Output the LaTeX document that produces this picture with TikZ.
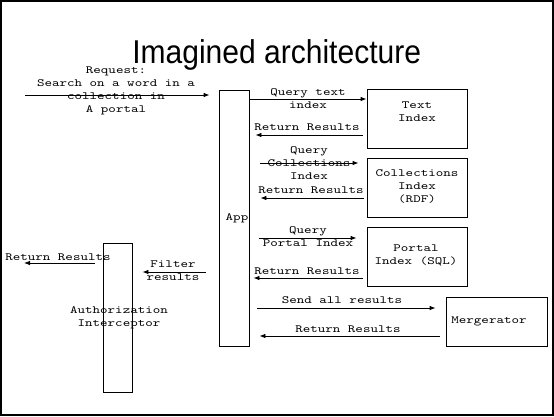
\documentclass[tikz,border=0pt]{standalone}
\usepackage{fontspec}
\usetikzlibrary{arrows.meta}
\newfontfamily\titlefont[FakeStretch=0.91]{Liberation Sans}
\setmonofont[FakeStretch=1.3]{Latin Modern Mono}

\tikzset{
  box/.style={draw, line width=0.8pt, inner sep=0pt},
  lbl/.style={inner sep=0pt, align=center, font=\ttfamily\fontsize{11}{13}\selectfont},
  msg/.style={line width=0.8pt, -{Latex[length=6pt,width=4.5pt]}},
}

\begin{document}
\begin{tikzpicture}[x=1pt, y=-1pt]
  % Marco
  \useasboundingbox (0,0) rectangle (554,416);
  \draw[line width=1.6pt] (0.8,0.8) rectangle (553.2,415.2);

  % Titulo
  \node[anchor=base, inner sep=0pt, text depth=0pt, font=\titlefont\fontsize{33}{36}\selectfont] (title) at (276.7,63) {Imagined architecture};

  % Cajas
  \node[box, minimum width=30, minimum height=256] (app) at (234,218) {};
  \node[box, minimum width=100, minimum height=59] (txt) at (417,118.5) {};
  \node[box, minimum width=100, minimum height=59] (coll) at (417,187.5) {};
  \node[box, minimum width=100, minimum height=59] (portal) at (417,256.5) {};
  \node[box, minimum width=101, minimum height=49] (merg) at (496.5,321.5) {};
  \node[box, minimum width=29, minimum height=149] (auth) at (117.5,317.5) {};

  % Textos de las cajas
  \node[lbl] (applbl) at (237,218) {App};
  \node[lbl] (txtlbl) at (417,112) {Text\\Index};
  \node[lbl] (colllbl) at (417,187) {Collections\\Index\\(RDF)};
  \node[lbl] (portallbl) at (416,255) {Portal\\Index (SQL)};
  \node[lbl] (merglbl) at (489,321) {Mergerator};
  \node[lbl] (authlbl) at (119,318) {Authorization\\Interceptor};

  % Peticion
  \coordinate (user) at (25,95);
  \draw[msg] (user) -- ([xshift=-9pt]app.west |- user);
  \node[lbl] (req) at (116,91) {Request:\\Search on a word in a\\collection in\\A portal};

  % Consultas y respuestas
  \draw[msg] (app.east |- 0,99) -- (txt.west |- 0,99);
  \node[lbl] (q1) at (308,99) {Query text\\index};
  \draw[msg] ([xshift=-4pt]txt.west |- 0,135) -- ([xshift=6pt]app.east |- 0,135);
  \node[lbl] (r1) at (307,127.5) {Return Results};

  \draw[msg] ([xshift=11pt]app.east |- 0,163) -- ([xshift=-8pt]coll.west |- 0,163);
  \node[lbl] (q2) at (309,163) {Query\\Collections\\Index};
  \draw[msg] ([xshift=-3pt]coll.west |- 0,198) -- ([xshift=11pt]app.east |- 0,198);
  \node[lbl] (r2) at (311,190.5) {Return Results};

  \draw[msg] ([xshift=10pt]app.east |- 0,238) -- ([xshift=-10pt]portal.west |- 0,238);
  \node[lbl] (q3) at (308,237) {Query\\Portal Index};
  \draw[msg] ([xshift=-4pt]portal.west |- 0,278) -- ([xshift=4pt]app.east |- 0,278);
  \node[lbl] (r3) at (307,271) {Return Results};

  \draw[msg] ([xshift=8pt]app.east |- 0,308) -- ([xshift=-10pt]merg.west |- 0,308);
  \node[lbl] (q4) at (342,300) {Send all results};
  \draw[msg] ([xshift=-6pt]merg.west |- 0,336) -- ([xshift=10pt]app.east |- 0,336);
  \node[lbl] (r4) at (348,329) {Return Results};

  % Filtro
  \draw[msg] ([xshift=-13pt]app.west |- 0,272) -- ([xshift=10pt]auth.east |- 0,272);
  \node[lbl] (filt) at (173,271) {Filter\\results};
  \coordinate (back) at (24,263);
  \draw[msg] ([xshift=-8pt]auth.west |- back) -- (back);
  \node[lbl] (r5) at (58,257) {Return Results};
\end{tikzpicture}
\end{document}
